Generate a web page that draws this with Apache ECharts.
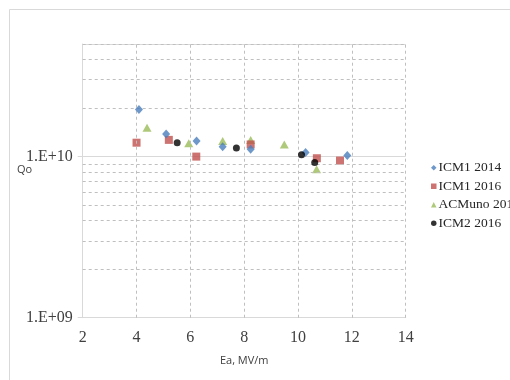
<!DOCTYPE html>
<html><head><meta charset="utf-8">
<script src="https://cdn.jsdelivr.net/npm/echarts@6/dist/echarts.min.js"></script>
<style>html,body{margin:0;padding:0;background:#fff}#c{width:510px;height:380px}</style>
</head><body><div id="c"></div>
<script>
const seriesNames = ['ICM1 2014', 'ICM1 2016', 'ACMuno 2014', 'ICM2 2016'];
const icm1_2014 = [[4.09,1.96e10],[5.1,1.38e10],[6.23,1.25e10],[7.2,1.15e10],[8.24,1.11e10],[10.28,1.06e10],[11.83,1.015e10]];
const icm1_2016 = [[4.0,1.22e10],[5.2,1.27e10],[6.22,1.0e10],[8.24,1.19e10],[10.7,9.77e9],[11.56,9.45e9]];
const acmuno_2014 = [[4.39,1.51e10],[5.94,1.21e10],[7.2,1.25e10],[8.24,1.27e10],[9.49,1.19e10],[10.69,8.35e9]];
const icm2_2016 = [[5.51,1.22e10],[7.71,1.13e10],[10.13,1.025e10],[10.62,9.18e9]];
const xTicks = [2,4,6,8,10,12,14];
const yMinorGrid = [2e9,3e9,4e9,5e9,6e9,7e9,8e9,9e9,2e10,3e10,4e10,5e10];
const xGrid = [4,6,8,10,12,14];

const chart = echarts.init(document.getElementById('c'));
const serif = '"Liberation Serif","Times New Roman",serif';
const sans = '"Open Sans","DejaVu Sans",sans-serif';
const dashStyle = {color:'#bfbfbf', type:[3,3], width:1};
chart.setOption({
  animation:false,
  backgroundColor:'#fff',
  graphic:[
    {type:'rect', shape:{x:9.5,y:9.5,width:520,height:400}, style:{fill:null, stroke:'#d9d9d9', lineWidth:1}, silent:true, z:-10},
    {type:'text', left:17, top:164, style:{text:'Qo', fontFamily:sans, fontSize:11, fill:'#404040'}}
  ],
  grid:{left:82.7, right:104.3, top:44, bottom:62.3},
  legend:{
    orient:'vertical', left:426, top:155, itemGap:3, itemWidth:5.5, itemHeight:5.5,
    textStyle:{fontFamily:serif, fontSize:13.5, color:'#262626', padding:[0,0,0,-3], lineHeight:15.5},
    data:seriesNames
  },
  xAxis:{
    type:'value', min:2, max:14, interval:2,
    name:'Ea, MV/m', nameLocation:'middle', nameGap:38,
    nameTextStyle:{fontFamily:sans, fontSize:11, color:'#404040'},
    axisLine:{lineStyle:{color:'#d9d9d9'}}, axisTick:{show:false},
    axisLabel:{fontFamily:serif, fontSize:16, color:'#404040', margin:12},
    splitLine:{show:false}
  },
  yAxis:{
    type:'log', logBase:10, min:1e9, max:5e10,
    axisLine:{show:true, lineStyle:{color:'#d9d9d9'}},
    axisTick:{show:true, length:5, lineStyle:{color:'#d9d9d9'}},
    axisLabel:{fontFamily:serif, fontSize:16, color:'#404040', margin:10, showMaxLabel:false,
      formatter:function(v){ const e=Math.round(Math.log10(v)); if(Math.abs(v-Math.pow(10,e))/v>1e-6) return ''; return '1.E+'+(e<10?'0'+e:e);} },
    splitLine:{show:true, lineStyle:{color:'#d9d9d9'}}
  },
  series:[
    {type:'scatter', name:'grid', data:[], silent:true, z:1,
      markLine:{silent:true, symbol:'none', label:{show:false}, lineStyle:dashStyle,
        data: yMinorGrid.map(v=>({yAxis:v})).concat(xGrid.map(v=>({xAxis:v})))}},
    {type:'scatter', name:seriesNames[0], data:icm1_2014, symbol:'diamond', symbolSize:[8,9], itemStyle:{color:'#4a7ebb'}, z:5},
    {type:'scatter', name:seriesNames[1], data:icm1_2016, symbol:'rect', symbolSize:8, itemStyle:{color:'#C0504D'}, z:4},
    {type:'scatter', name:seriesNames[2], data:acmuno_2014, symbol:'triangle', symbolSize:[9,8], itemStyle:{color:'#9BBB59'}, z:3},
    {type:'scatter', name:seriesNames[3], data:icm2_2016, symbol:'circle', symbolSize:7, itemStyle:{color:'#000000'}, z:6}
  ]
});
</script></body></html>
